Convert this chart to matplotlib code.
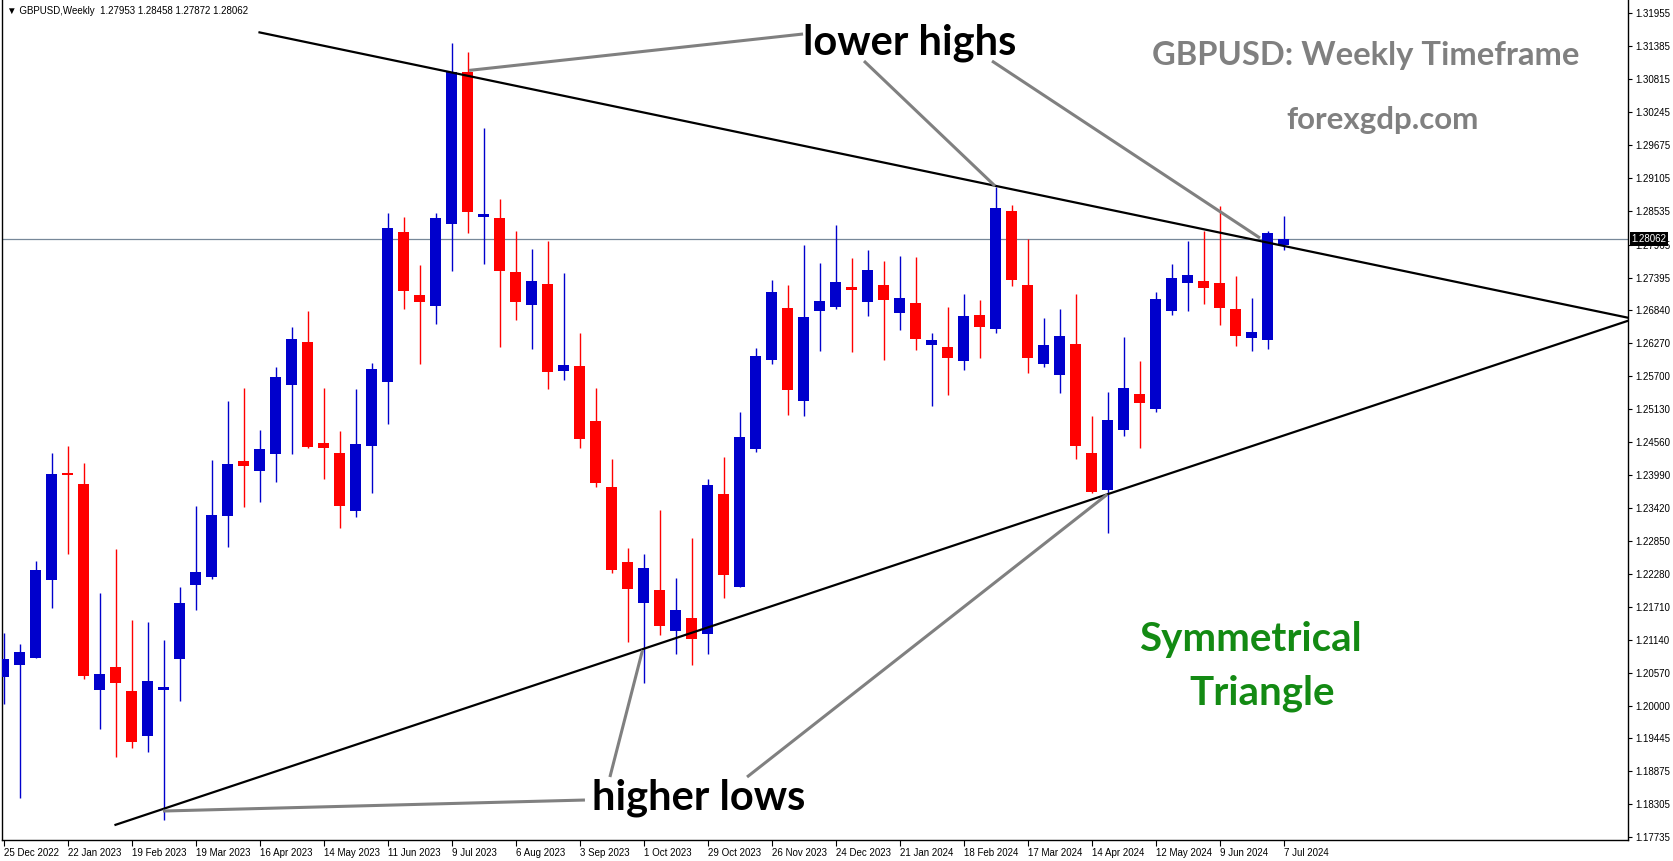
import matplotlib.pyplot as plt
from matplotlib.transforms import blended_transform_factory

# weekly GBPUSD candles, one per week starting 25 Dec 2022
opens = [1.20505, 1.20707, 1.20833, 1.22174, 1.24026, 1.23831, 1.20281, 1.20673, 1.20258, 1.19487,
         1.20281, 1.20816, 1.22093, 1.22226, 1.23284, 1.24228, 1.24061, 1.24354, 1.25540, 1.26282,
         1.24539, 1.24366, 1.23370, 1.24492, 1.25592, 1.28181, 1.27094, 1.26909, 1.28324, 1.30942,
         1.28445, 1.28422, 1.27490, 1.26926, 1.27283, 1.25787, 1.25868, 1.24919, 1.23779, 1.22485,
         1.21782, 1.22002, 1.21299, 1.21518, 1.21247, 1.23659, 1.22059, 1.24441, 1.25977, 1.26869,
         1.25269, 1.26822, 1.26891, 1.27237, 1.26978, 1.27266, 1.26788, 1.26955, 1.26236, 1.26196,
         1.25959, 1.26748, 1.26512, 1.28543, 1.27266, 1.25908, 1.25718, 1.26248, 1.24366, 1.23733,
         1.24768, 1.25385, 1.25131, 1.26822, 1.27306, 1.27335, 1.27300, 1.26852, 1.26356, 1.26322,
         1.27953]
highs = [1.21254, 1.21070, 1.22502, 1.24366, 1.24487, 1.24194, 1.21949, 1.22709, 1.21484, 1.21449,
         1.21139, 1.22053, 1.23451, 1.24245, 1.25264, 1.25488, 1.24763, 1.25851, 1.26541, 1.26817,
         1.25488, 1.24746, 1.25471, 1.25920, 1.28509, 1.28440, 1.27611, 1.28509, 1.31443, 1.31288,
         1.29976, 1.28750, 1.28198, 1.27887, 1.28025, 1.27473, 1.26443, 1.25488, 1.24263, 1.22727,
         1.22623, 1.23382, 1.22209, 1.22899, 1.23918, 1.24297, 1.25074, 1.26179, 1.27352, 1.27266,
         1.27956, 1.27646, 1.28301, 1.27732, 1.27870, 1.27680, 1.27766, 1.27749, 1.26438, 1.26886,
         1.27111, 1.27007, 1.28963, 1.28647, 1.28060, 1.26696, 1.26852, 1.27111, 1.25005, 1.25419,
         1.26368, 1.25954, 1.27145, 1.27628, 1.28025, 1.28198, 1.28629, 1.27421, 1.27042, 1.28198,
         1.28458]
lows = [1.20029, 1.18408, 1.20833, 1.21696, 1.22623, 1.20471, 1.19608, 1.19119, 1.19280, 1.19211,
        1.18030, 1.20091, 1.21662, 1.22191, 1.22749, 1.23439, 1.23526, 1.23871, 1.24354, 1.24458,
        1.23923, 1.23077, 1.23267, 1.23681, 1.24872, 1.26852, 1.25908, 1.26598, 1.27513, 1.28169,
        1.27634, 1.26201, 1.26667, 1.26167, 1.25476, 1.25631, 1.24458, 1.23785, 1.22300, 1.21109,
        1.20396, 1.21225, 1.20902, 1.20707, 1.20902, 1.21869, 1.22059, 1.24389, 1.25908, 1.25022,
        1.25010, 1.26132, 1.26857, 1.26115, 1.26736, 1.25977, 1.26494, 1.26149, 1.25183, 1.25359,
        1.25804, 1.26011, 1.26443, 1.27254, 1.25752, 1.25856, 1.25410, 1.24268, 1.23671, 1.22991,
        1.24665, 1.24458, 1.25079, 1.26753, 1.26822, 1.26943, 1.26581, 1.26218, 1.26132, 1.26167,
        1.27872]
closes = [1.20811, 1.20932, 1.22347, 1.24004, 1.23992, 1.20517, 1.20552, 1.20402, 1.19383, 1.20431,
          1.20327, 1.21777, 1.22312, 1.23296, 1.24176, 1.24147, 1.24435, 1.25678, 1.26334, 1.24475,
          1.24458, 1.23457, 1.24522, 1.25816, 1.28250, 1.27168, 1.26978, 1.28422, 1.30942, 1.28531,
          1.28491, 1.27513, 1.26978, 1.27335, 1.25770, 1.25885, 1.24613, 1.23843, 1.22352, 1.22024,
          1.22381, 1.21385, 1.21656, 1.21161, 1.23814, 1.22266, 1.24648, 1.26040, 1.27145, 1.25459,
          1.26714, 1.26990, 1.27318, 1.27185, 1.27525, 1.27012, 1.27042, 1.26339, 1.26317, 1.26011,
          1.26731, 1.26546, 1.28595, 1.27357, 1.26011, 1.26231, 1.26386, 1.24492, 1.23693, 1.24936,
          1.25488, 1.25234, 1.27025, 1.27387, 1.27439, 1.27219, 1.26874, 1.26391, 1.26455, 1.28163,
          1.28062]

date_labels = ['25 Dec 2022', '22 Jan 2023', '19 Feb 2023', '19 Mar 2023', '16 Apr 2023',
               '14 May 2023', '11 Jun 2023', '9 Jul 2023', '6 Aug 2023', '3 Sep 2023',
               '1 Oct 2023', '29 Oct 2023', '26 Nov 2023', '24 Dec 2023', '21 Jan 2024',
               '18 Feb 2024', '17 Mar 2024', '14 Apr 2024', '12 May 2024', '9 Jun 2024',
               '7 Jul 2024']
price_ticks = [1.31955, 1.31385, 1.30815, 1.30245, 1.29675, 1.29105, 1.28535, 1.27965, 1.27395,
               1.26840, 1.26270, 1.25700, 1.25130, 1.24560, 1.23990, 1.23420, 1.22850, 1.22280,
               1.21710, 1.21140, 1.20570, 1.20000, 1.19445, 1.18875, 1.18305, 1.17735]
last_price = 1.28062
header = '\u25bc GBPUSD,Weekly  1.27953 1.28458 1.27872 1.28062'

# trend lines (bar index, price)
upper_x, upper_y = [16, 101.5], [1.31626, 1.26703]
lower_x, lower_y = [7, 101.5], [1.17949, 1.26646]

# pointer lines for the labels
highs_ptr_x = [[29.1, 49.97], [53.78, 61.97], [61.78, 78.53]]
highs_ptr_y = [[1.30970, 1.31598], [1.31132, 1.28975], [1.31132, 1.28077]]
lows_ptr_x = [[9.97, 36.34], [37.9, 39.94], [46.47, 68.99]]
lows_ptr_y = [[1.18187, 1.18377], [1.18774, 1.20966], [1.18774, 1.23653]]

W, H = 1673, 861
fig = plt.figure(figsize=(W / 100, H / 100), dpi=100)
ax = fig.add_axes([2 / W, 21 / H, 1626 / W, 840 / H])

idx = list(range(len(opens)))
cols = ['#0000cc' if c >= o else '#ff0000' for o, c in zip(opens, closes)]
bottoms = [min(o, c) for o, c in zip(opens, closes)]
heights = [max(abs(c - o), 0.0002) for o, c in zip(opens, closes)]

ax.axhline(last_price, color='#778899', lw=0.9, zorder=1)
ax.vlines(idx, lows, highs, colors=cols, lw=1.0, zorder=2)
ax.bar(idx, heights, bottom=bottoms, width=0.6875, color=cols, linewidth=0, zorder=3)

ax.plot(upper_x, upper_y, color='black', lw=1.6, zorder=4)
ax.plot(lower_x, lower_y, color='black', lw=1.6, zorder=4)
for xs, ys in zip(highs_ptr_x + lows_ptr_x, highs_ptr_y + lows_ptr_y):
    ax.plot(xs, ys, color='#808080', lw=2.2, zorder=5, solid_capstyle='butt')

big = dict(family=['Lato', 'DejaVu Sans'], fontweight='bold', ha='center', va='center', zorder=6)
ax.text(56.66, 1.31443, 'lower highs', fontsize=30, color='black', **big)
ax.text(43.47, 1.18412, 'higher lows', fontsize=30, color='black', **big)
ax.text(85.16, 1.31220, 'GBPUSD: Weekly Timeframe', fontsize=23.6, color='#808080', **big)
ax.text(86.16, 1.30122, 'forexgdp.com', fontsize=22.5, color='#808080', **big)
ax.text(77.9, 1.21139, 'Symmetrical', fontsize=29, color='#138a13', **big)
ax.text(78.66, 1.20214, 'Triangle', fontsize=29, color='#138a13', **big)

small = ['Liberation Sans', 'DejaVu Sans']
ax.text(0.003, 1 - 11 / 840, header, transform=ax.transAxes, fontsize=7, va='center',
        family=small)

ax.set_xlim(-0.094, 101.53)
ax.set_ylim(1.17687, 1.32185)

ax.yaxis.tick_right()
ax.set_yticks(price_ticks)
ax.set_yticklabels(['%.5f' % p for p in price_ticks], family=small, fontsize=7)
ax.set_xticks(list(range(0, 81, 4)))
ax.set_xticklabels(date_labels, family=small, fontsize=7, ha='left')
ax.tick_params(axis='y', direction='out', length=3, width=0.8, pad=2)
ax.tick_params(axis='x', direction='out', length=4, width=0.8, pad=2)

ax.spines['top'].set_visible(False)
for s in ['left', 'bottom', 'right']:
    ax.spines[s].set_linewidth(1.0)

tr = blended_transform_factory(ax.transAxes, ax.transData)
ax.text(1.002, last_price, '%.5f' % last_price, transform=tr, ha='left', va='center',
        color='white', fontsize=7, family=small, zorder=10, clip_on=False,
        bbox=dict(facecolor='black', edgecolor='none', pad=1.2))

fig.savefig('out.png', dpi=100)
